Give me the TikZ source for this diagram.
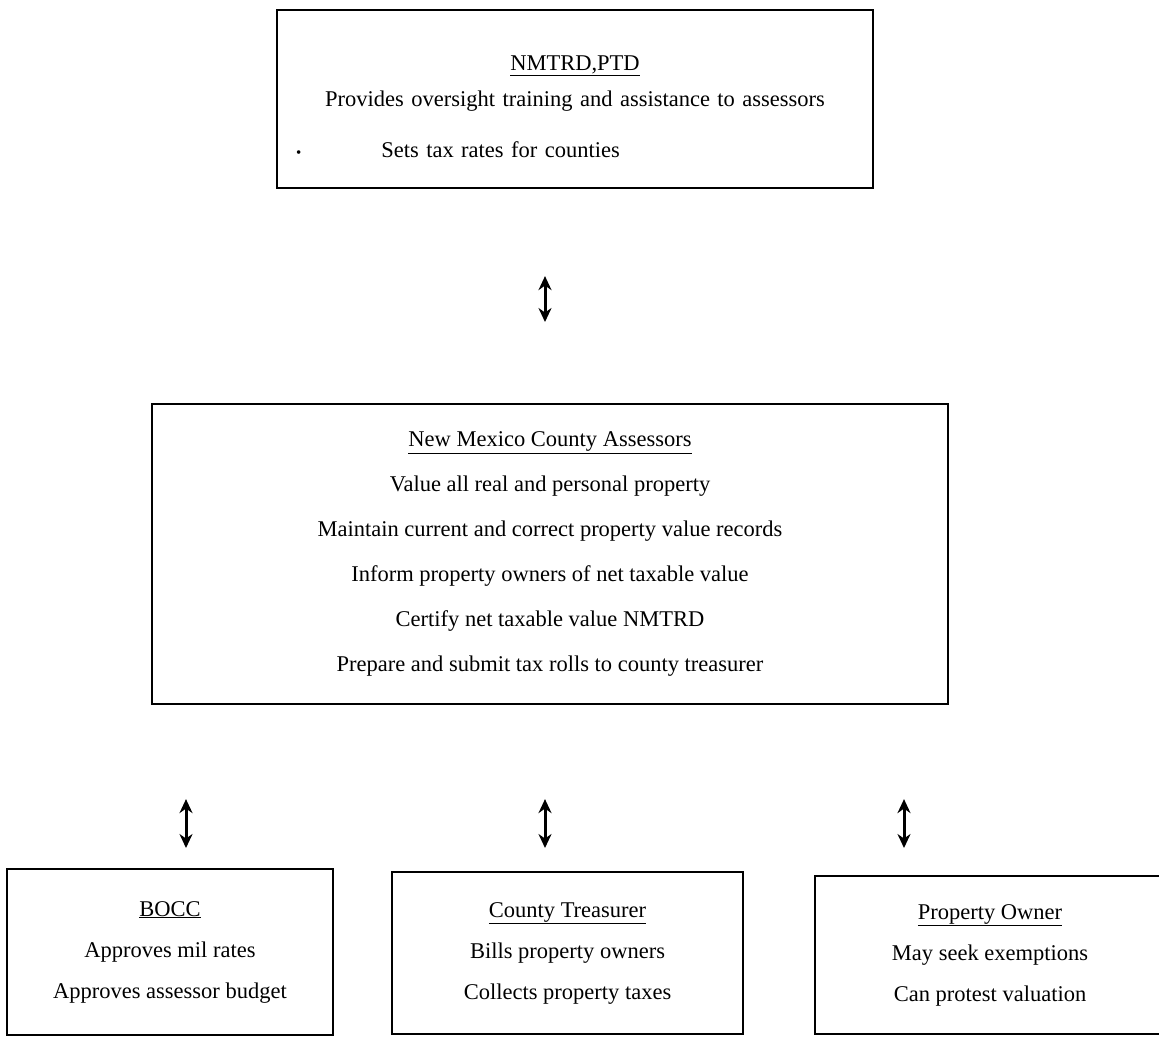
\documentclass[tikz,border=0pt]{standalone}
\usepackage{fontspec}
\setmainfont{Liberation Serif}
\usetikzlibrary{arrows.meta}

\begin{document}
\begin{tikzpicture}[x=1pt, y=-1pt,
    caja/.style={draw, line width=2.2pt, inner sep=0pt, align=center, font=\fontsize{22.5}{27}\selectfont},
    flecha/.style={{Stealth[length=14pt,width=13pt]}-{Stealth[length=14pt,width=13pt]}, line width=3pt}]
  \useasboundingbox (0,0) rectangle (1159,1036);

  % Cajas
  \node[caja, minimum width=596pt, minimum height=178pt, text width=560pt] (nmtrd) at (575,99)
    {\rule{0pt}{30pt}\underline{NMTRD,PTD}\\[9pt]
     Provides oversight training and assistance to assessors\\[24pt]
     \makebox[560pt][l]{\hspace*{1pt}{\fontsize{15}{15}\selectfont\textbullet}\hspace{80pt}Sets tax rates for counties}};
  \node[caja, minimum width=796pt, minimum height=300pt, font=\fontsize{22.5}{45}\selectfont] (assessors) at (550,554)
    {\underline{New Mexico County Assessors}\\
     Value all real and personal property\\
     Maintain current and correct property value records\\
     Inform property owners of net taxable value\\
     Certify net taxable value NMTRD\\
     Prepare and submit tax rolls to county treasurer};
  \node[caja, minimum width=326pt, minimum height=166pt, font=\fontsize{22.5}{41}\selectfont] (bocc) at (170,952)
    {\underline{BOCC}\\ Approves mil rates\\ Approves assessor budget};
  \node[caja, minimum width=351pt, minimum height=162pt, font=\fontsize{22.5}{41}\selectfont] (treasurer) at (567.5,953)
    {\underline{County Treasurer}\\ Bills property owners\\ Collects property taxes};
  \node[caja, minimum width=350pt, minimum height=158pt, font=\fontsize{22.5}{41}\selectfont] (owner) at (990,955)
    {\underline{Property Owner}\\ May seek exemptions\\ Can protest valuation};

  % Flechas
  \coordinate (f0) at (545,322);
  \coordinate (f1) at (186,848);
  \coordinate (f2) at (545,848);
  \coordinate (f3) at (904,848);
  \draw[flecha, shorten <=87pt] (nmtrd.south -| f0) -- (f0);
  \draw[flecha, shorten <=94pt] (assessors.south -| f1) -- (f1);
  \draw[flecha, shorten <=94pt] (assessors.south -| f2) -- (f2);
  \draw[flecha, shorten <=94pt] (assessors.south -| f3) -- (f3);
\end{tikzpicture}
\end{document}
